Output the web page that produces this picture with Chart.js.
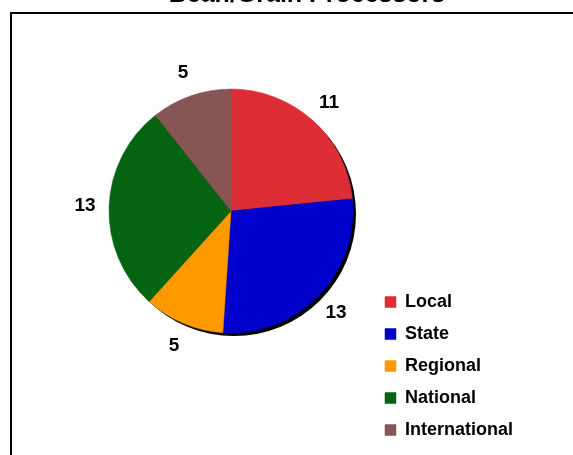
<!DOCTYPE html>
<html>
<head>
<meta charset="utf-8">
<script src="https://cdn.jsdelivr.net/npm/chart.js@4/dist/chart.umd.min.js"></script>
<style>
  html, body { margin: 0; padding: 0; background: #fff; overflow: hidden; width: 573px; height: 455px; }
  #wrap { position: absolute; left: 0; top: -40px; width: 573px; height: 495px; }
</style>
</head>
<body>
<div id="wrap"><canvas id="c" width="573" height="495"></canvas></div>
<script>
const chartTitle = 'Bean/Grain Processors';
const categories = ['Local', 'State', 'Regional', 'National', 'International'];
const values = [11, 13, 5, 13, 5];
const sliceColors = ['#DD2E35', '#0000CC', '#FF9900', '#046412', '#885555'];

const FONT = "Arial, 'Liberation Sans', sans-serif";

const frame = {
  id: 'frame',
  beforeDraw(chart) {
    const ctx = chart.ctx;
    ctx.save();
    ctx.fillStyle = '#fff';
    ctx.fillRect(0, 0, chart.width, chart.height);
    ctx.strokeStyle = '#000';
    ctx.lineWidth = 2;
    ctx.strokeRect(11, 53, 1000, 1000);
    ctx.restore();
  }
};

const shadow = {
  id: 'shadow',
  beforeDatasetsDraw(chart) {
    const meta = chart.getDatasetMeta(0);
    if (!meta.data.length) return;
    const a = meta.data[0];
    const ctx = chart.ctx;
    ctx.save();
    ctx.fillStyle = '#000';
    ctx.beginPath();
    ctx.arc(a.x + 3, a.y + 3, a.outerRadius, 0, Math.PI * 2);
    ctx.fill();
    ctx.restore();
  }
};

const valueLabels = {
  id: 'valueLabels',
  afterDatasetsDraw(chart) {
    const meta = chart.getDatasetMeta(0);
    const ctx = chart.ctx;
    ctx.save();
    ctx.fillStyle = '#000';
    ctx.font = 'bold 19px ' + FONT;
    ctx.textAlign = 'center';
    ctx.textBaseline = 'middle';
    meta.data.forEach((arc, i) => {
      const mid = (arc.startAngle + arc.endAngle) / 2;
      const r = arc.outerRadius + 24;
      ctx.fillText(String(chart.data.datasets[0].data[i]), arc.x + Math.cos(mid) * r, arc.y + Math.sin(mid) * r);
    });
    ctx.restore();
  }
};

new Chart(document.getElementById('c'), {
  type: 'pie',
  data: {
    labels: categories,
    datasets: [{
      data: values,
      backgroundColor: sliceColors,
      borderColor: sliceColors,
      borderWidth: 0.5
    }]
  },
  options: {
    responsive: false,
    animation: false,
    devicePixelRatio: 1,
    radius: 122,
    layout: { padding: { left: 91, right: 50, top: 0, bottom: 2 } },
    plugins: {
      title: {
        display: true,
        text: chartTitle,
        color: '#000',
        font: { family: FONT, size: 25, weight: 'bold', lineHeight: 1.2 },
        padding: { top: 20.3, bottom: -41.3 }
      },
      legend: {
        position: 'right',
        align: 'end',
        labels: {
          color: '#000',
          font: { family: FONT, size: 18, weight: 'bold' },
          boxWidth: 11,
          boxHeight: 11,
          padding: 14
        }
      },
      tooltip: { enabled: false }
    }
  },
  plugins: [frame, shadow, valueLabels]
});
</script>
</body>
</html>
